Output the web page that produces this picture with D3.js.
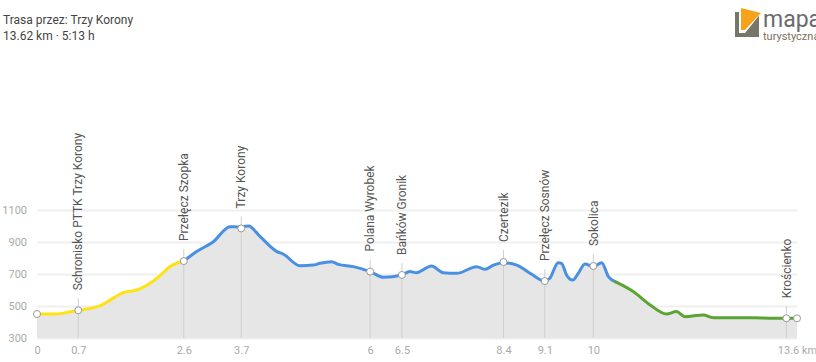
<!DOCTYPE html>
<html>
<head>
<meta charset="utf-8">
<script src="https://cdn.jsdelivr.net/npm/d3@7"></script>
<style>
  body { margin: 0; background: #fff; font-family: Roboto, sans-serif; }
  svg { display: block; }
</style>
</head>
<body>
<script>
// profile data (km, m)
var dist = [0, 0.32, 0.47, 0.74, 1.16, 1.31, 1.55, 1.79, 2.17, 2.38, 2.63, 2.86, 3.16, 3.46, 3.6, 3.79, 4.0, 4.30, 4.41, 4.71, 4.95, 5.07, 5.28, 5.40, 5.67, 5.97, 6.21, 6.54, 6.68, 6.80, 7.07, 7.28, 7.52, 7.88, 8.03, 8.18, 8.36, 8.60, 8.84, 9.10, 9.19, 9.34, 9.40, 9.49, 9.60, 9.70, 9.82, 9.97, 10.12, 10.24, 10.36, 10.69, 10.99, 11.28, 11.46, 11.61, 11.94, 12.12, 12.60, 13.0, 13.43, 13.62];
var elev = [450, 450, 455, 473, 506, 537, 583, 600, 679, 746, 781, 840, 902, 996, 994, 1000, 933, 840, 825, 752, 756, 767, 777, 760, 746, 715, 679, 694, 715, 708, 750, 708, 704, 746, 729, 756, 771, 756, 704, 656, 673, 771, 767, 694, 662, 704, 762, 746, 771, 683, 652, 589, 506, 450, 465, 433, 444, 427, 427, 425, 423, 423];

// coloured sections
var segStart = [0, 2.63, 10.36];
var segEnd = [2.63, 10.36, 13.62];
var segColor = ["#ffe310", "#4a90e2", "#5aa532"];

// waypoints
var wpName = ["", "Schronisko PTTK Trzy Korony", "Przełęcz Szopka", "Trzy Korony", "Polana Wyrobek", "Bańków Gronik", "Czertezik", "Przełęcz Sosnów", "Sokolica", "Krościenko", ""];
var wpDist = [0, 0.74, 2.63, 3.66, 5.97, 6.54, 8.36, 9.10, 9.97, 13.43, 13.62];
var wpElev = [450, 473, 781, 985, 715, 694, 775, 656, 750, 423, 423];

// axis ticks
var xTicks = [0, 0.74, 2.63, 3.66, 5.97, 6.54, 8.36, 9.10, 9.97, 13.62];
var xTickLabels = ["0", "0.7", "2.6", "3.7", "6", "6.5", "8.4", "9.1", "10", "13.6 km"];
var yTicks = [300, 500, 700, 900, 1100];

var width = 816, height = 362;
var left = 37, right = 797, bottom = 338;

var svg = d3.select("body").append("svg")
  .attr("width", width)
  .attr("height", height);

var x = d3.scaleLinear().domain([0, 13.62]).range([left, right]);
var y = d3.scaleLinear().domain([300, 1100]).range([bottom, 210]);

var pts = dist.map(function (d, i) { return { d: d, e: elev[i] }; });

// title
svg.append("text").attr("x", 3).attr("y", 24)
  .style("font-size", "12px").style("fill", "#444")
  .text("Trasa przez: Trzy Korony");
svg.append("text").attr("x", 3).attr("y", 40)
  .style("font-size", "12px").style("fill", "#444")
  .text("13.62 km · 5:13 h");

// logo (cut off at the right edge like the original)
var logo = svg.append("g");
logo.append("rect").attr("x", 735).attr("y", 12).attr("width", 24).attr("height", 25).attr("fill", "#77766a");
logo.append("polygon").attr("points", "739,8 762,12 745,33 739,33").attr("fill", "#fff");
logo.append("polygon").attr("points", "741,8 761,13 745,30 741,30").attr("fill", "#f7a21b");
logo.append("text").attr("x", 763).attr("y", 27)
  .style("font-size", "23px").style("fill", "#6b6b6b").text("mapa");
logo.append("text").attr("x", 763).attr("y", 40)
  .style("font-size", "11px").style("fill", "#7d6f5c").text("turystyczna");

// y grid + labels
var yAxis = svg.append("g")
  .attr("transform", "translate(" + left + ",0)")
  .call(d3.axisLeft(y).tickValues(yTicks).tickFormat(d3.format("d"))
    .tickSize(-(right - left)).tickPadding(10));
yAxis.select(".domain").remove();
yAxis.selectAll("line").attr("stroke", "#efefef").attr("stroke-width", 2);
yAxis.selectAll("text").style("font-size", "11px").style("fill", "#aaa").style("font-family", "Roboto, sans-serif");

// area
var area = d3.area().x(function (p) { return x(p.d); }).y0(bottom).y1(function (p) { return y(p.e); })
  .curve(d3.curveMonotoneX);
svg.append("path").datum(pts).attr("d", area).attr("fill", "#e6e6e6");

// waypoint lines
wpName.forEach(function (n, i) {
  if (!n) return;
  svg.append("line")
    .attr("x1", x(wpDist[i])).attr("x2", x(wpDist[i]))
    .attr("y1", y(wpElev[i]) - 12).attr("y2", bottom)
    .attr("stroke", "#cfcfcf").attr("stroke-width", 1);
});

// coloured profile line
var line = d3.line().x(function (p) { return x(p.d); }).y(function (p) { return y(p.e); })
  .curve(d3.curveMonotoneX);
segStart.forEach(function (s, i) {
  var seg = pts.filter(function (p) { return p.d >= s && p.d <= segEnd[i]; });
  svg.append("path").datum(seg).attr("d", line)
    .attr("fill", "none").attr("stroke", segColor[i]).attr("stroke-width", 3)
    .attr("stroke-linejoin", "round").attr("stroke-linecap", "round");
});

// markers + labels
wpName.forEach(function (n, i) {
  var cx = x(wpDist[i]), cy = y(wpElev[i]);
  svg.append("circle").attr("cx", cx).attr("cy", cy).attr("r", 3.5)
    .attr("fill", "#fff").attr("stroke", "#999").attr("stroke-width", 1);
  if (!n) return;
  svg.append("text")
    .attr("transform", "translate(" + cx + "," + (cy - 20) + ") rotate(-90)")
    .attr("dy", "0.35em")
    .style("font-size", "12px").style("fill", "#555")
    .text(n);
});

// x axis labels
var xAxis = svg.append("g")
  .attr("transform", "translate(0," + bottom + ")")
  .call(d3.axisBottom(x).tickValues(xTicks).tickSize(0).tickPadding(8)
    .tickFormat(function (d, i) { return xTickLabels[i]; }));
xAxis.select(".domain").remove();
xAxis.selectAll("text").style("font-size", "11px").style("fill", "#aaa").style("font-family", "Roboto, sans-serif");
</script>
</body>
</html>
